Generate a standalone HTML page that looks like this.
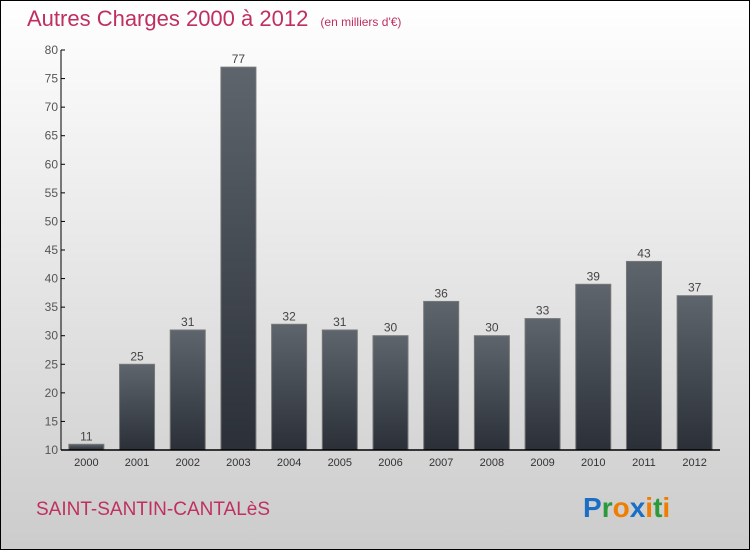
<!DOCTYPE html>
<html><head><meta charset="utf-8"><style>
body{margin:0}
#c{width:748px;height:548px;border:1px solid #000;position:relative;background:linear-gradient(#fff,#ccc);font-family:"Liberation Sans",sans-serif;overflow:hidden}
</style></head><body>
<div id="c">
<svg id="s" width="748" height="548" style="position:absolute;left:0;top:0">
<defs><linearGradient id="g" x1="0" y1="0" x2="0" y2="1"><stop offset="0" stop-color="#5e656c"/><stop offset="1" stop-color="#2b3038"/></linearGradient></defs>
<text x="26" y="25" font-size="22" fill="#c0305e">Autres Charges 2000 à 2012 <tspan font-size="12" dx="6">(en milliers d'€)</tspan></text>
<text x="35" y="514" font-size="19" fill="#c0305e">SAINT-SANTIN-CANTALèS</text>
<text x="582" y="516" font-size="28" font-weight="bold"><tspan fill="#1a6fc4">P</tspan><tspan fill="#2a9a3a">r</tspan><tspan fill="#f07d00">o</tspan><tspan fill="#1a6fc4">x</tspan><tspan fill="#f07d00">i</tspan><tspan fill="#2a9a3a">t</tspan><tspan fill="#f07d00">i</tspan></text>
<g id="plot"></g>
</svg>
</div>
<script>
const years=["2000","2001","2002","2003","2004","2005","2006","2007","2008","2009","2010","2011","2012"];
const values=[11,25,31,77,32,31,30,36,30,33,39,43,37];
const yTicks=[10,15,20,25,30,35,40,45,50,55,60,65,70,75,80];
const X0=60,X1=719,Y0=449,Y1=49,VMIN=10,VMAX=80;
const band=(X1-X0)/years.length;
const y=v=>Y0-(v-VMIN)/(VMAX-VMIN)*(Y0-Y1);
const xc=i=>X0+band*(i+0.5);
const g=document.getElementById('plot');
const NS="http://www.w3.org/2000/svg";
function mk(t,a){const e=document.createElementNS(NS,t);for(const k in a)e.setAttribute(k,a[k]);g.appendChild(e);return e;}
values.forEach((v,i)=>{
 const r=mk('rect',{x:xc(i)-17.5,y:y(v),width:35,height:Y0-y(v),fill:'url(#g)',stroke:'#777','stroke-width':1});
 
 
 const t=mk('text',{x:xc(i),y:y(v)-4,'text-anchor':'middle','font-size':12,fill:'#444'});t.textContent=v;
 
 
 const l=mk('text',{x:xc(i),y:465,'text-anchor':'middle','font-size':11,fill:'#333'});l.textContent=years[i];
 
 
});
yTicks.forEach(v=>{
 const tk=mk('line',{x1:X0,x2:X0+4,y1:y(v),y2:y(v),stroke:'#000'});
 
 
 const t=mk('text',{x:X0-3,y:y(v)+4,'text-anchor':'end','font-size':12,fill:'#555'});t.textContent=v;
 
 
});
const ya=mk('line',{x1:X0,x2:X0,y1:Y1,y2:Y0,stroke:'#000'});


const xa=mk('line',{x1:X0,x2:X1,y1:Y0,y2:Y0,stroke:'#000','stroke-width':1.5});


</script>
</body></html>
